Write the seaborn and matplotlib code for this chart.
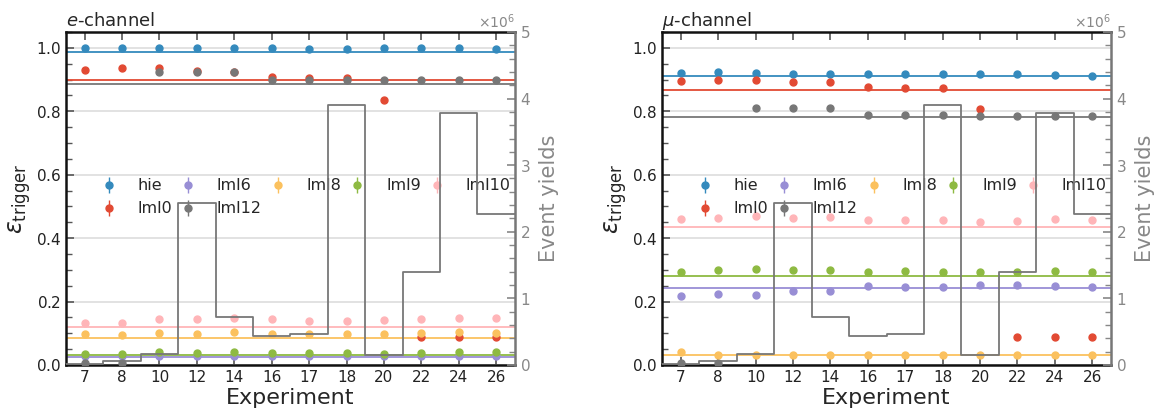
import numpy as np
import seaborn as sns
import matplotlib.pyplot as plt
from matplotlib.ticker import MultipleLocator

# ====================================================
# DATA
# ====================================================

experiments = ["7", "8", "10", "12", "14", "16", "17", "18", "20", "22", "24", "26"]

# event yields per experiment (same for both channels)
event_yields = [0.02e6, 0.06e6, 0.16e6, 2.43e6, 0.72e6, 0.44e6,
                0.465e6, 3.90e6, 0.15e6, 1.40e6, 3.79e6, 2.26e6]

trigger_names = ["hie", "lml0", "lml6", "lml12", "lml8", "lml9", "lml10"]
trigger_colors = ["#348ABD", "#E24A33", "#988ED5", "#777777",
                  "#FBC15E", "#8EBA42", "#FFB5B8"]

# e-channel efficiencies
e_hie = [0.998, 0.998, 0.998, 0.998, 0.998, 0.998, 0.997, 0.997, 0.998, 0.998, 0.998, 0.997]
e_lml0 = [0.930, 0.936, 0.937, 0.928, 0.925, 0.909, 0.904, 0.906, 0.837, 0.088, 0.088, 0.088]
e_lml6 = [0.027, 0.027, 0.028, 0.028, 0.028, 0.028, 0.027, 0.027, 0.027, 0.027, 0.028, 0.028]
e_lml12 = [0.005, 0.005, 0.923, 0.923, 0.924, 0.898, 0.897, 0.897, 0.897, 0.897, 0.897, 0.897]
e_lml8 = [0.097, 0.095, 0.100, 0.099, 0.103, 0.098, 0.097, 0.097, 0.098, 0.100, 0.103, 0.101]
e_lml9 = [0.035, 0.035, 0.040, 0.039, 0.040, 0.039, 0.037, 0.037, 0.036, 0.039, 0.040, 0.041]
e_lml10 = [0.133, 0.133, 0.145, 0.144, 0.148, 0.145, 0.140, 0.140, 0.143, 0.144, 0.148, 0.147]
e_means = [0.987, 0.897, 0.026, 0.887, 0.086, 0.032, 0.121]

# mu-channel efficiencies
m_hie = [0.922, 0.925, 0.921, 0.918, 0.918, 0.918, 0.916, 0.916, 0.918, 0.917, 0.914, 0.911]
m_lml0 = [0.895, 0.899, 0.900, 0.892, 0.892, 0.875, 0.873, 0.874, 0.808, 0.087, 0.087, 0.088]
m_lml6 = [0.219, 0.224, 0.221, 0.233, 0.233, 0.248, 0.247, 0.247, 0.252, 0.252, 0.248, 0.245]
m_lml12 = [0.005, 0.005, 0.810, 0.809, 0.809, 0.789, 0.787, 0.787, 0.786, 0.786, 0.786, 0.786]
m_lml8 = [0.042, 0.031, 0.031, 0.031, 0.031, 0.031, 0.031, 0.031, 0.031, 0.031, 0.031, 0.031]
m_lml9 = [0.294, 0.298, 0.303, 0.298, 0.300, 0.293, 0.295, 0.294, 0.292, 0.294, 0.295, 0.294]
m_lml10 = [0.460, 0.465, 0.470, 0.465, 0.467, 0.457, 0.458, 0.457, 0.452, 0.455, 0.459, 0.458]
m_means = [0.910, 0.866, 0.244, 0.783, 0.033, 0.282, 0.436]

eff_err = 0.003

# ====================================================
# STYLE
# ====================================================

sns.set_style("white")
plt.rcParams["font.family"] = ["DejaVu Sans"]
plt.rcParams["axes.formatter.use_mathtext"] = True

GRAY = "#888888"
HIST_GRAY = "#777777"


def draw_panel(ax, title, effs, means):

    x = np.arange(len(experiments))

    ax.yaxis.grid(True, color="#dddddd", linewidth=1.2, zorder=0)
    ax.set_axisbelow(True)

    for name, color, vals, mean in zip(trigger_names, trigger_colors, effs, means):
        ax.axhline(mean, color=color, linewidth=1.3, zorder=1)
        ax.errorbar(
            x, vals, yerr=eff_err, fmt="o", ms=5, color=color,
            elinewidth=1, capsize=0, label=name, zorder=3
        )

    ax.set_xlim(-0.5, len(experiments) - 0.5)
    ax.set_ylim(0, 1.05)
    ax.set_xticks(x)
    ax.set_xticklabels(experiments)
    ax.yaxis.set_major_locator(MultipleLocator(0.2))
    ax.yaxis.set_minor_locator(MultipleLocator(0.05))
    ax.tick_params(axis="both", which="both", direction="in",
                   top=True, bottom=True, left=True, right=False,
                   labelsize=11, colors="#555555", labelcolor="#222222")
    ax.tick_params(axis="both", which="major", length=6, width=1.2)
    ax.tick_params(axis="y", which="minor", length=4, width=1)

    ax.set_xlabel("Experiment", fontsize=16, labelpad=2)
    ax.set_ylabel(r"$\varepsilon_{\mathrm{trigger}}$", fontsize=17, labelpad=2)
    ax.set_title(title, loc="left", fontsize=13, pad=4)

    for side in ["left", "top", "bottom"]:
        ax.spines[side].set_color("#111111")
        ax.spines[side].set_linewidth(1.8)
    ax.spines["right"].set_visible(False)

    ax.legend(
        loc="upper left", bbox_to_anchor=(0.045, 0.58), ncol=5,
        frameon=False, fontsize=11.5, columnspacing=0.0,
        handletextpad=0.8, borderaxespad=0
    )

    # event yields on twin axis
    ax2 = ax.twinx()
    sns.histplot(
        x=x, weights=event_yields, discrete=True, element="step",
        fill=False, color=HIST_GRAY, linewidth=1.3, ax=ax2
    )
    ax2.set_xlim(-0.5, len(experiments) - 0.5)
    ax2.set_ylim(0, 5e6)
    ax2.yaxis.set_major_locator(MultipleLocator(1e6))
    ax2.yaxis.set_minor_locator(MultipleLocator(0.2e6))
    ax2.tick_params(axis="y", which="both", direction="in", colors=GRAY,
                    labelsize=11, labelcolor=GRAY)
    ax2.tick_params(axis="y", which="major", length=6, width=1.2)
    ax2.tick_params(axis="y", which="minor", length=4, width=1)
    ax2.yaxis.get_offset_text().set_color(GRAY)
    ax2.yaxis.get_offset_text().set_fontsize(10)
    ax2.set_ylabel("Event yields", fontsize=15, color=GRAY, labelpad=6)
    ax2.set_xlabel("")
    for side in ["left", "top", "bottom"]:
        ax2.spines[side].set_visible(False)
    ax2.spines["right"].set_color(HIST_GRAY)
    ax2.spines["right"].set_linewidth(1.8)


# ====================================================
# FIGURE
# ====================================================

fig = plt.figure(figsize=(11.55, 4.12), dpi=100)

ax_e = fig.add_axes([0.0571, 0.1141, 0.3887, 0.8083])
ax_m = fig.add_axes([0.5732, 0.1141, 0.3887, 0.8083])

draw_panel(ax_e, r"$e$-channel",
           [e_hie, e_lml0, e_lml6, e_lml12, e_lml8, e_lml9, e_lml10], e_means)
draw_panel(ax_m, r"$\mu$-channel",
           [m_hie, m_lml0, m_lml6, m_lml12, m_lml8, m_lml9, m_lml10], m_means)

plt.savefig("out.png", dpi=100)
